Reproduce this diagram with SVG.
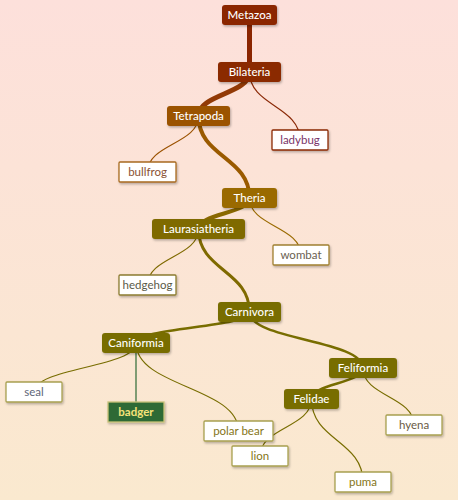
<svg xmlns="http://www.w3.org/2000/svg" width="458" height="500" viewBox="0 0 458 500">
<defs>
<linearGradient id="bg" x1="0" y1="0" x2="0" y2="1">
<stop offset="0" stop-color="#fde0db"/>
<stop offset="1" stop-color="#fae9cf"/>
</linearGradient>
<filter id="sh" x="-20%" y="-30%" width="140%" height="170%">
<feDropShadow dx="1" dy="1.5" stdDeviation="1" flood-color="#000" flood-opacity="0.28"/>
</filter>
</defs>
<style>
.lk{fill:none;stroke-linecap:round}
.in rect{rx:3;ry:3;filter:url(#sh)}
.in text{fill:#ffffff;font-family:Lato,"Noto Sans",sans-serif;font-size:11.5px;font-weight:500;text-anchor:middle}
.lf rect{fill:#ffffff;stroke-width:1.3;rx:1;ry:1;filter:url(#sh)}
.lf text{font-family:Lato,"Noto Sans",sans-serif;font-size:11.5px;text-anchor:middle}
</style>
<rect width="458" height="500" fill="url(#bg)"/>
<g id="links">
<path class="lk" d="M249.5 15 L249.5 72" stroke="#8b2500" stroke-width="5"/>
<path class="lk" d="M249.5 72 C249.5 94 198.5 94 198.5 116" stroke="#923a06" stroke-width="5"/>
<path class="lk" d="M249.5 72 C249.5 106 300 106 300 140" stroke="#8b2a08" stroke-width="1.2"/>
<path class="lk" d="M198.5 116 C198.5 144 147.5 144 147.5 172" stroke="#9b5200" stroke-width="1.2"/>
<path class="lk" d="M198.5 116 C198.5 157 249.5 157 249.5 198" stroke="#9a5a00" stroke-width="4"/>
<path class="lk" d="M249.5 198 C249.5 213.5 198.5 213.5 198.5 229" stroke="#8a6800" stroke-width="4"/>
<path class="lk" d="M249.5 198 C249.5 226.5 301 226.5 301 255" stroke="#9a6a00" stroke-width="1.2"/>
<path class="lk" d="M198.5 229 C198.5 257 147.5 257 147.5 285" stroke="#7f6a00" stroke-width="1.2"/>
<path class="lk" d="M198.5 229 C198.5 270.5 249.5 270.5 249.5 312" stroke="#7f6a00" stroke-width="3"/>
<path class="lk" d="M249.5 312 C249.5 327.5 136 327.5 136 343" stroke="#786d00" stroke-width="2.5"/>
<path class="lk" d="M249.5 312 C249.5 340 363 340 363 368" stroke="#786d00" stroke-width="2.5"/>
<path class="lk" d="M136 343 C136 367.5 34 367.5 34 392" stroke="#786d00" stroke-width="1.2"/>
<path class="lk" d="M136 343 L136 412" stroke="#2e6b35" stroke-width="1.2"/>
<path class="lk" d="M136 343 C136 387 238.5 387 238.5 431" stroke="#786d00" stroke-width="1.2"/>
<path class="lk" d="M363 368 C363 383.5 311.5 383.5 311.5 399" stroke="#786d00" stroke-width="2.5"/>
<path class="lk" d="M363 368 C363 396.5 414 396.5 414 425" stroke="#786d00" stroke-width="1.2"/>
<path class="lk" d="M311.5 399 C311.5 427.5 260 427.5 260 456" stroke="#786d00" stroke-width="1.2"/>
<path class="lk" d="M311.5 399 C311.5 440.5 363 440.5 363 482" stroke="#786d00" stroke-width="1.2"/>
</g>
<g id="metazoa" class="in"><rect x="222" y="5" width="55" height="20" fill="#8b2500"/><text x="249.5" y="19">Metazoa</text></g>
<g id="bilateria" class="in"><rect x="218" y="62" width="63" height="20" fill="#8b2a00"/><text x="249.5" y="76">Bilateria</text></g>
<g id="tetrapoda" class="in"><rect x="167" y="106" width="63" height="20" fill="#9b5200"/><text x="198.5" y="120">Tetrapoda</text></g>
<g id="ladybug" class="lf"><rect x="272" y="130" width="56" height="20" stroke="#8b2a08"/><text x="300" y="144" fill="#7a3468">ladybug</text></g>
<g id="bullfrog" class="lf"><rect x="119" y="162" width="57" height="20" stroke="#a86a20"/><text x="147.5" y="176" fill="#8a5234">bullfrog</text></g>
<g id="theria" class="in"><rect x="222" y="188" width="55" height="20" fill="#9a6a00"/><text x="249.5" y="202">Theria</text></g>
<g id="laurasiatheria" class="in"><rect x="152" y="219" width="93" height="20" fill="#7f6a00"/><text x="198.5" y="233">Laurasiatheria</text></g>
<g id="wombat" class="lf"><rect x="273" y="245" width="56" height="20" stroke="#a08030"/><text x="301" y="259" fill="#6a6050">wombat</text></g>
<g id="hedgehog" class="lf"><rect x="119" y="275" width="57" height="20" stroke="#8c7c30"/><text x="147.5" y="289" fill="#5a5a48">hedgehog</text></g>
<g id="carnivora" class="in"><rect x="218" y="302" width="63" height="20" fill="#786d00"/><text x="249.5" y="316">Carnivora</text></g>
<g id="caniformia" class="in"><rect x="102" y="333" width="68" height="20" fill="#786d00"/><text x="136" y="347">Caniformia</text></g>
<g id="feliformia" class="in"><rect x="329" y="358" width="68" height="20" fill="#786d00"/><text x="363" y="372">Feliformia</text></g>
<g id="seal" class="lf"><rect x="6" y="382" width="56" height="20" stroke="#a8a050"/><text x="34" y="396" fill="#5e6678">seal</text></g>
<g id="badger"><rect x="108" y="402" width="56" height="20" fill="#2e6b35" stroke="#c8c27a" stroke-width="1.3" filter="url(#sh)"/><text x="136" y="416" fill="#f5e27a" font-family="Lato,'Noto Sans',sans-serif" font-size="11.5" font-weight="bold" text-anchor="middle">badger</text></g>
<g id="felidae" class="in"><rect x="284" y="389" width="55" height="20" fill="#786d00"/><text x="311.5" y="403">Felidae</text></g>
<g id="hyena" class="lf"><rect x="386" y="415" width="56" height="20" stroke="#a8a050"/><text x="414" y="429" fill="#6a5a45">hyena</text></g>
<g id="polar-bear" class="lf"><rect x="204" y="421" width="69" height="20" stroke="#a8a050"/><text x="238.5" y="435" fill="#857518">polar bear</text></g>
<g id="lion" class="lf"><rect x="232" y="446" width="56" height="20" stroke="#a8a050"/><text x="260" y="460" fill="#857518">lion</text></g>
<g id="puma" class="lf"><rect x="335" y="472" width="56" height="20" stroke="#a8a050"/><text x="363" y="486" fill="#857518">puma</text></g>
</svg>
